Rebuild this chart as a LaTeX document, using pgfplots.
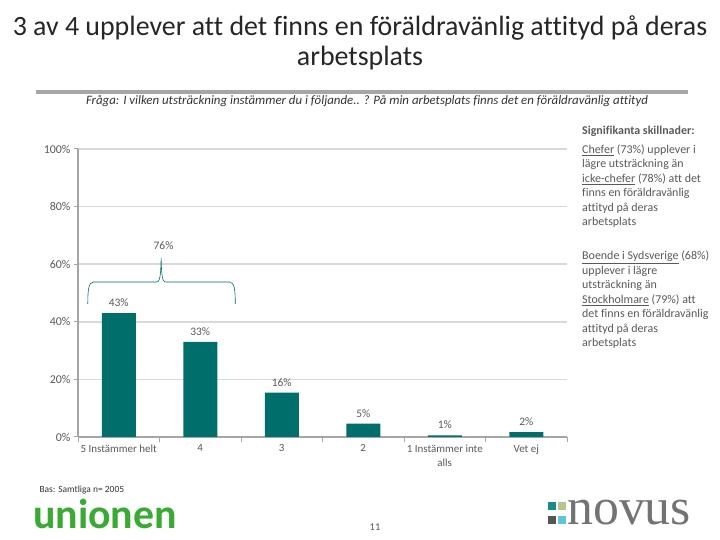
\documentclass[border=0pt]{standalone}
\usepackage{pgfplots}
\pgfplotsset{compat=1.18}
\usepackage{pgfplotstable}
\usepackage{fontspec}
\setmainfont{Carlito}[Ligatures=NoCommon]
\newfontfamily\novusfont{Liberation Serif}
\definecolor{barc}{HTML}{006F6B}
\definecolor{txt}{HTML}{595959}
\definecolor{gridc}{HTML}{D9D9D9}
\definecolor{axc}{HTML}{A6A6A6}
\definecolor{unigreen}{HTML}{3AAA35}
\definecolor{nv1}{HTML}{1A8A8A}
\definecolor{nv2}{HTML}{B3C78C}
\definecolor{nv3}{HTML}{555555}
\definecolor{nv4}{HTML}{5CC6D6}
\pgfplotstableread{
x y label
0 43 43
1 33 33
2 15.4 16
3 4.6 5
4 0.6 1
5 1.7 2
}\data
\begin{document}
\begin{tikzpicture}[x=1bp,y=1bp]
\path[use as bounding box] (0,0) rectangle (720,540);
% title
\node[align=center,font=\fontsize{28}{30}\selectfont,text=black!85] at (360,497) {3 av 4 upplever att det finns en föräldravänlig attityd på deras\\arbetsplats};
\fill[axc] (36,446) rectangle (688,450);
\node[font=\fontsize{12.9}{14}\selectfont\itshape,text=black!80] at (367,439) {Fråga: I vilken utsträckning instämmer du i följande.. ? På min arbetsplats finns det en föräldravänlig attityd};
\begin{axis}[
  at={(78bp,103bp)}, anchor=south west,
  scale only axis, width=489bp, height=288bp,
  xmin=-0.5, xmax=5.5, ymin=0, ymax=100,
  axis lines=left, axis line style={-,draw=axc,line width=1.2bp},
  ytick={0,20,40,60,80,100},
  yticklabels={0\%,20\%,40\%,60\%,80\%,100\%},
  xtick={0,...,5},
  xticklabels={5 Instämmer helt,4,3,2,1 Instämmer inte\\alls,Vet ej},
  xticklabel style={align=center,font=\fontsize{11}{14}\selectfont,text=txt},
  yticklabel style={font=\fontsize{12}{13}\selectfont,text=txt},
  major x tick style={draw=none},
  minor xtick={-0.5,0.5,...,5.5},
  minor tick length=5bp, major tick length=4bp,
  tick align=outside,
  tick style={draw=axc,line width=1bp},
  ymajorgrids, major grid style={draw=gridc,line width=1.5bp},
  ybar, bar width=34bp, bar shift=0pt,
  nodes near coords={\pgfplotspointmeta\%},
  point meta=explicit symbolic,
  every node near coord/.append style={font=\fontsize{11.5}{13}\selectfont,text=txt,yshift=3bp},
  clip=false,
  /pgf/number format/assume math mode=true,
]
\addplot[fill=barc,draw=none] table[x=x,y=y,meta=label]{\data};
\draw[barc,line width=0.6bp] (axis cs:-0.38,46.2) .. controls (axis cs:-0.38,51) and (axis cs:-0.37,53.8) .. (axis cs:-0.31,53.8) -- (axis cs:0.46,53.8) .. controls (axis cs:0.50,53.8) and (axis cs:0.515,55) .. (axis cs:0.52,62.2) .. controls (axis cs:0.525,55) and (axis cs:0.54,53.8) .. (axis cs:0.58,53.8) -- (axis cs:1.36,53.8) .. controls (axis cs:1.42,53.8) and (axis cs:1.43,51) .. (axis cs:1.43,46.2);
\node[font=\fontsize{11.5}{13}\selectfont,text=txt] at (axis cs:0.55,66.3) {76\%};
\end{axis}
% right text
\node[anchor=north west,align=left,text=txt,font=\fontsize{12}{14.5}\selectfont,inner sep=0pt] at (582,414) {\textbf{Signifikanta skillnader:}\\[4.5bp]
\underline{Chefer} (73\%) upplever i\\
lägre utsträckning än\\
\underline{icke-chefer} (78\%) att det\\
finns en föräldravänlig\\
attityd på deras\\
arbetsplats};
\node[anchor=north west,align=left,text=txt,font=\fontsize{12}{14.5}\selectfont,inner sep=0pt] at (582,289) {\underline{Boende i Sydsverige} (68\%)\\
upplever i lägre\\
utsträckning än\\
\underline{Stockholmare} (79\%) att\\
det finns en föräldravänlig\\
attityd på deras\\
arbetsplats};
% footer
\node[anchor=west,font=\fontsize{9.5}{11}\selectfont,text=black!80] at (36,50) {Bas: Samtliga n= 2005};
\node[anchor=west,font=\fontsize{42}{42}\selectfont\bfseries,text=unigreen,inner sep=0pt] at (33,26) {unionen};
\node[font=\fontsize{10.5}{12}\selectfont,text=txt] at (375,13) {11};
\fill[nv1] (548,30) rectangle (556,38);
\fill[nv2] (558,30) rectangle (566,38);
\fill[nv3] (548,16) rectangle (556,24);
\fill[nv4] (558,16) rectangle (566,24);
\node[anchor=base west,font=\novusfont\fontsize{52}{52}\selectfont,text=black!55,inner sep=0pt] at (567,15) {novus};
\end{tikzpicture}
\end{document}
